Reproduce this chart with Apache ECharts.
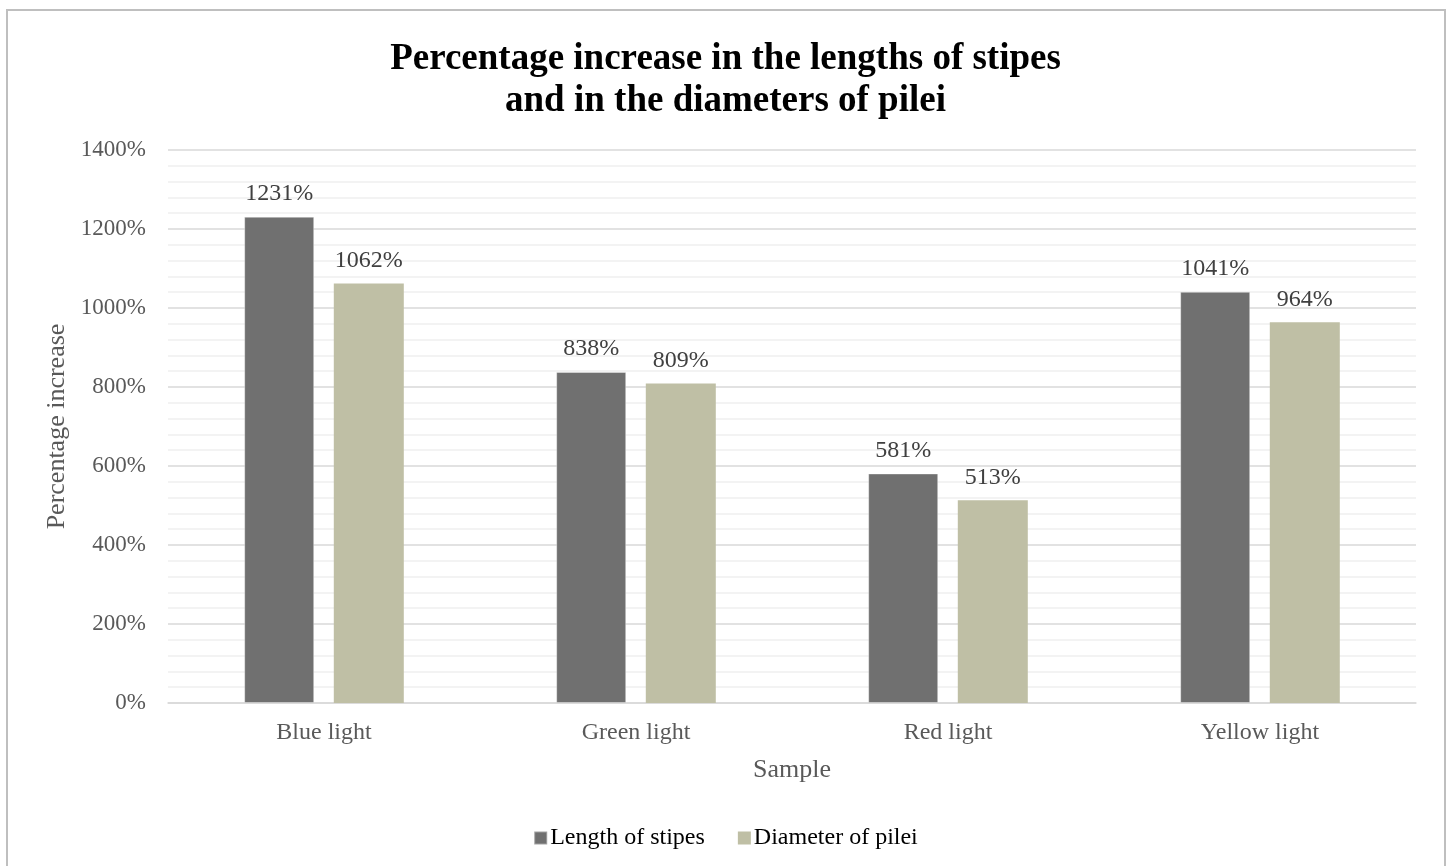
<!DOCTYPE html>
<html>
<head>
<meta charset="utf-8">
<script src="https://cdn.jsdelivr.net/npm/echarts@6/dist/echarts.min.js"></script>
<style>
  html, body { margin: 0; padding: 0; background: #fff; }
  #chart { width: 1451px; height: 866px; }
</style>
</head>
<body>
<div id="chart"></div>
<script>
// Samples and the two measured increases (percent)
const categories = ['Blue light', 'Green light', 'Red light', 'Yellow light'];
const lengthOfStipes = [1231, 838, 581, 1041];
const diameterOfPilei = [1062, 809, 513, 964];
const seriesNames = ['Length of stipes', 'Diameter of pilei'];

const serif = '"Liberation Serif", "Times New Roman", serif';

const chart = echarts.init(document.getElementById('chart'));

const labelStyle = {
  show: true,
  position: 'top',
  distance: 11,
  fontFamily: serif,
  fontSize: 24,
  color: '#404040',
  formatter: p => p.value + '%'
};

chart.setOption({
  animation: false,
  backgroundColor: '#fff',
  graphic: [{
    type: 'rect',
    shape: { x: 7, y: 10, width: 1438, height: 870 },
    style: { fill: 'none', stroke: '#bfbfbf', lineWidth: 2 },
    silent: true
  }],
  title: {
    text: 'Percentage increase in the lengths of stipes\nand in the diameters of pilei',
    left: 'center',
    top: 33,
    textStyle: {
      fontFamily: serif,
      fontSize: 37,
      fontWeight: 'bold',
      color: '#000',
      lineHeight: 42
    }
  },
  legend: {
    bottom: 11,
    left: 'center',
    itemWidth: 13,
    itemHeight: 13,
    itemGap: 33,
    icon: 'rect',
    textStyle: { fontFamily: serif, fontSize: 24, color: '#000', padding: [0, 0, 0, -2] },
    data: seriesNames
  },
  grid: { left: 168, right: 35, top: 150, bottom: 163, containLabel: false },
  xAxis: {
    type: 'category',
    data: categories,
    name: 'Sample',
    nameLocation: 'middle',
    nameGap: 54,
    nameTextStyle: { fontFamily: serif, fontSize: 26, color: '#595959', verticalAlign: 'top' },
    axisLine: { lineStyle: { color: '#d9d9d9', width: 1.5 } },
    axisTick: { show: false },
    axisLabel: { fontFamily: serif, fontSize: 24, color: '#595959', margin: 18 }
  },
  yAxis: {
    type: 'value',
    min: 0,
    max: 1400,
    interval: 200,
    name: 'Percentage increase',
    nameLocation: 'middle',
    nameGap: 96,
    nameTextStyle: { fontFamily: serif, fontSize: 26, color: '#595959' },
    axisLine: { show: false },
    axisTick: { show: false },
    axisLabel: { fontFamily: serif, fontSize: 23, color: '#595959', margin: 22, formatter: v => v + '%' },
    splitLine: { lineStyle: { color: '#d9d9d9', width: 1.5 } },
    minorTick: { show: false, splitNumber: 5 },
    minorSplitLine: { show: true, lineStyle: { color: '#efefef', width: 1.5 } }
  },
  series: [
    {
      name: seriesNames[0],
      type: 'bar',
      data: lengthOfStipes,
      barWidth: 70,
      barGap: '28%',
      itemStyle: { color: '#707070', borderColor: 'rgba(255,255,255,0.35)', borderWidth: 1 },
      label: labelStyle
    },
    {
      name: seriesNames[1],
      type: 'bar',
      data: diameterOfPilei,
      barWidth: 70,
      itemStyle: { color: '#bfbfa5' },
      label: labelStyle
    }
  ]
});
</script>
</body>
</html>
